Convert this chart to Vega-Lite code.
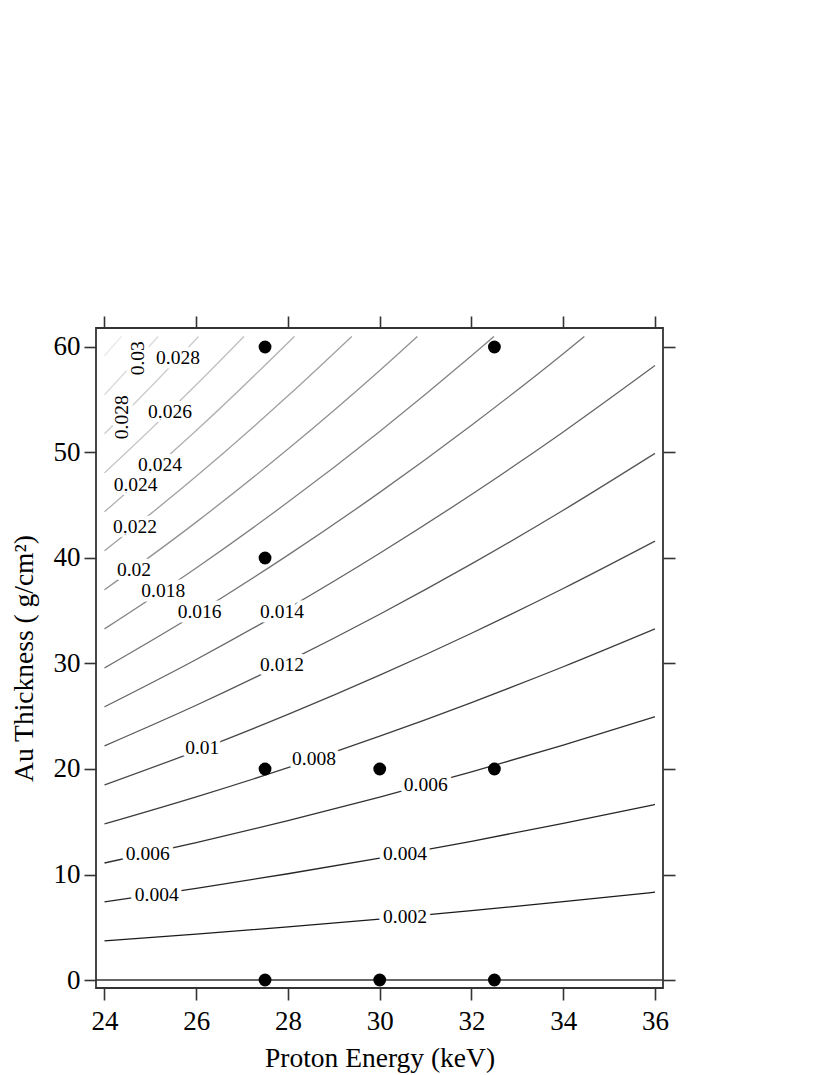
{
  "$schema": "https://vega.github.io/schema/vega-lite/v6.json",
  "width": 567,
  "height": 660,
  "autosize": "none",
  "padding": {"left": 96, "top": 328, "right": 167, "bottom": 87},
  "background": "white",
  "config": {
    "view": {"stroke": "#333333", "strokeWidth": 1.8},
    "font": "Liberation Serif",
    "axis": {
      "domain": false, "grid": false,
      "tickColor": "#333333", "tickWidth": 1.6, "tickSize": 12,
      "labelFont": "Liberation Serif", "labelFontSize": 27, "labelColor": "black",
      "titleFont": "Liberation Serif", "titleFontSize": 27.5, "titleFontWeight": "normal", "titleColor": "black"
    }
  },
  "datasets": {
    "lines": [
      {"level": 0.002, "E": 24, "T": 3.70}, {"level": 0.002, "E": 26, "T": 4.34}, {"level": 0.002, "E": 28, "T": 5.03}, {"level": 0.002, "E": 30, "T": 5.78}, {"level": 0.002, "E": 32, "T": 6.57}, {"level": 0.002, "E": 34, "T": 7.42}, {"level": 0.002, "E": 36, "T": 8.32},
      {"level": 0.004, "E": 24, "T": 7.40}, {"level": 0.004, "E": 26, "T": 8.68}, {"level": 0.004, "E": 28, "T": 10.07}, {"level": 0.004, "E": 30, "T": 11.56}, {"level": 0.004, "E": 32, "T": 13.15}, {"level": 0.004, "E": 34, "T": 14.84}, {"level": 0.004, "E": 36, "T": 16.64},
      {"level": 0.006, "E": 24, "T": 11.09}, {"level": 0.006, "E": 26, "T": 13.02}, {"level": 0.006, "E": 28, "T": 15.10}, {"level": 0.006, "E": 30, "T": 17.33}, {"level": 0.006, "E": 32, "T": 19.72}, {"level": 0.006, "E": 34, "T": 22.26}, {"level": 0.006, "E": 36, "T": 24.96},
      {"level": 0.008, "E": 24, "T": 14.79}, {"level": 0.008, "E": 26, "T": 17.36}, {"level": 0.008, "E": 28, "T": 20.13}, {"level": 0.008, "E": 30, "T": 23.11}, {"level": 0.008, "E": 32, "T": 26.30}, {"level": 0.008, "E": 34, "T": 29.69}, {"level": 0.008, "E": 36, "T": 33.28},
      {"level": 0.010, "E": 24, "T": 18.49}, {"level": 0.010, "E": 26, "T": 21.70}, {"level": 0.010, "E": 28, "T": 25.17}, {"level": 0.010, "E": 30, "T": 28.89}, {"level": 0.010, "E": 32, "T": 32.87}, {"level": 0.010, "E": 34, "T": 37.11}, {"level": 0.010, "E": 36, "T": 41.60},
      {"level": 0.012, "E": 24, "T": 22.19}, {"level": 0.012, "E": 26, "T": 26.04}, {"level": 0.012, "E": 28, "T": 30.20}, {"level": 0.012, "E": 30, "T": 34.67}, {"level": 0.012, "E": 32, "T": 39.44}, {"level": 0.012, "E": 34, "T": 44.53}, {"level": 0.012, "E": 36, "T": 49.92},
      {"level": 0.014, "E": 24, "T": 25.89}, {"level": 0.014, "E": 26, "T": 30.38}, {"level": 0.014, "E": 28, "T": 35.23}, {"level": 0.014, "E": 30, "T": 40.45}, {"level": 0.014, "E": 32, "T": 46.02}, {"level": 0.014, "E": 34, "T": 51.95}, {"level": 0.014, "E": 36, "T": 58.24},
      {"level": 0.016, "E": 24, "T": 29.58}, {"level": 0.016, "E": 26, "T": 34.72}, {"level": 0.016, "E": 28, "T": 40.27}, {"level": 0.016, "E": 30, "T": 46.22}, {"level": 0.016, "E": 32, "T": 52.59}, {"level": 0.016, "E": 34, "T": 59.37}, {"level": 0.016, "E": 34.46, "T": 61},
      {"level": 0.018, "E": 24, "T": 33.28}, {"level": 0.018, "E": 26, "T": 39.06}, {"level": 0.018, "E": 28, "T": 45.30}, {"level": 0.018, "E": 30, "T": 52.00}, {"level": 0.018, "E": 32, "T": 59.17}, {"level": 0.018, "E": 32.49, "T": 61},
      {"level": 0.020, "E": 24, "T": 36.98}, {"level": 0.020, "E": 26, "T": 43.40}, {"level": 0.020, "E": 28, "T": 50.33}, {"level": 0.020, "E": 30, "T": 57.78}, {"level": 0.020, "E": 30.82, "T": 61},
      {"level": 0.022, "E": 24, "T": 40.68}, {"level": 0.022, "E": 26, "T": 47.74}, {"level": 0.022, "E": 28, "T": 55.37}, {"level": 0.022, "E": 29.39, "T": 61},
      {"level": 0.024, "E": 24, "T": 44.38}, {"level": 0.024, "E": 26, "T": 52.08}, {"level": 0.024, "E": 28, "T": 60.40}, {"level": 0.024, "E": 28.14, "T": 61},
      {"level": 0.026, "E": 24, "T": 48.07}, {"level": 0.026, "E": 25, "T": 52.17}, {"level": 0.026, "E": 26, "T": 56.42}, {"level": 0.026, "E": 27.04, "T": 61},
      {"level": 0.028, "E": 24, "T": 51.77}, {"level": 0.028, "E": 25, "T": 56.18}, {"level": 0.028, "E": 26.05, "T": 61},
      {"level": 0.030, "E": 24, "T": 55.47}, {"level": 0.030, "E": 25, "T": 60.19}, {"level": 0.030, "E": 25.17, "T": 61},
      {"level": 0.032, "E": 24, "T": 59.17}, {"level": 0.032, "E": 24.37, "T": 61}
    ],
    "labels": [
      {"label": "0.028", "E": 25.602, "T": 58.93},
      {"label": "0.026", "E": 25.428, "T": 53.87},
      {"label": "0.024", "E": 25.21, "T": 48.82},
      {"label": "0.024", "E": 24.68, "T": 46.92},
      {"label": "0.022", "E": 24.665, "T": 42.94},
      {"label": "0.02", "E": 24.643, "T": 38.89},
      {"label": "0.018", "E": 25.282, "T": 36.90},
      {"label": "0.016", "E": 26.075, "T": 34.91},
      {"label": "0.014", "E": 27.869, "T": 34.91},
      {"label": "0.012", "E": 27.869, "T": 29.86},
      {"label": "0.01", "E": 26.132, "T": 21.96},
      {"label": "0.008", "E": 28.567, "T": 20.95},
      {"label": "0.006", "E": 31.002, "T": 18.48},
      {"label": "0.006", "E": 24.942, "T": 11.94},
      {"label": "0.004", "E": 30.55, "T": 11.91},
      {"label": "0.004", "E": 25.138, "T": 8.06},
      {"label": "0.002", "E": 30.55, "T": 5.97}
    ],
    "labelsRotated": [
      {"label": "0.03", "E": 24.737, "T": 58.93},
      {"label": "0.028", "E": 24.375, "T": 53.34}
    ],
    "pts": [
      {"E": 27.5, "T": 60}, {"E": 32.5, "T": 60}, {"E": 27.5, "T": 40},
      {"E": 27.5, "T": 20}, {"E": 30, "T": 20}, {"E": 32.5, "T": 20},
      {"E": 27.5, "T": 0}, {"E": 30, "T": 0}, {"E": 32.5, "T": 0}
    ]
  },
  "layer": [
    {
      "data": {"name": "lines"},
      "mark": {"type": "line", "interpolate": "monotone", "strokeWidth": 1.3},
      "encoding": {
        "x": {"field": "E", "type": "quantitative",
          "scale": {"domain": [23.815, 36.175], "nice": false, "zero": false},
          "axis": {"values": [24, 26, 28, 30, 32, 34, 36], "title": "Proton Energy (keV)", "labelPadding": 8, "titlePadding": 10}},
        "y": {"field": "T", "type": "quantitative",
          "scale": {"domain": [-0.758, 61.8], "nice": false, "zero": false},
          "axis": {"values": [0, 10, 20, 30, 40, 50, 60], "title": "Au Thickness ( g/cm²)", "labelPadding": 4, "titlePadding": 15}},
        "color": {"field": "level", "type": "ordinal", "legend": null,
          "scale": {
            "domain": [0.002, 0.004, 0.006, 0.008, 0.010, 0.012, 0.014, 0.016, 0.018, 0.020, 0.022, 0.024, 0.026, 0.028, 0.030, 0.032],
            "range": ["#1a1a1a", "#262626", "#313131", "#3d3d3d", "#4a4a4a", "#575757", "#656565", "#747474", "#838383", "#929292", "#a1a1a1", "#b0b0b0", "#bfbfbf", "#cccccc", "#dadada", "#e8e8e8"]}}
      }
    },
    {
      "data": {"name": "labels"},
      "mark": {"type": "text", "fontSize": 19.5, "font": "Liberation Serif", "fill": "white", "stroke": "white", "strokeWidth": 9, "align": "center", "baseline": "middle"},
      "encoding": {
        "x": {"field": "E", "type": "quantitative", "axis": null},
        "y": {"field": "T", "type": "quantitative", "axis": null},
        "text": {"field": "label"}
      }
    },
    {
      "data": {"name": "labelsRotated"},
      "mark": {"type": "text", "fontSize": 19.5, "font": "Liberation Serif", "fill": "white", "stroke": "white", "strokeWidth": 9, "align": "center", "baseline": "middle", "angle": 270},
      "encoding": {
        "x": {"field": "E", "type": "quantitative", "axis": null},
        "y": {"field": "T", "type": "quantitative", "axis": null},
        "text": {"field": "label"}
      }
    },
    {
      "data": {"name": "labels"},
      "mark": {"type": "text", "fontSize": 19.5, "font": "Liberation Serif", "color": "black", "align": "center", "baseline": "middle"},
      "encoding": {
        "x": {"field": "E", "type": "quantitative", "axis": null},
        "y": {"field": "T", "type": "quantitative", "axis": null},
        "text": {"field": "label"}
      }
    },
    {
      "data": {"name": "labelsRotated"},
      "mark": {"type": "text", "fontSize": 19.5, "font": "Liberation Serif", "color": "black", "align": "center", "baseline": "middle", "angle": 270},
      "encoding": {
        "x": {"field": "E", "type": "quantitative", "axis": null},
        "y": {"field": "T", "type": "quantitative", "axis": null},
        "text": {"field": "label"}
      }
    },
    {
      "data": {"values": [{}]},
      "mark": {"type": "rule", "color": "#333333", "strokeWidth": 1.6},
      "encoding": {
        "y": {"datum": 0, "type": "quantitative", "axis": null}
      }
    },
    {
      "data": {"name": "pts"},
      "mark": {"type": "circle", "size": 165, "color": "black", "opacity": 1},
      "encoding": {
        "x": {"field": "E", "type": "quantitative",
          "axis": {"orient": "top", "labels": false, "title": null, "values": [24, 26, 28, 30, 32, 34, 36]}},
        "y": {"field": "T", "type": "quantitative",
          "axis": {"orient": "right", "labels": false, "title": null, "values": [0, 10, 20, 30, 40, 50, 60]}}
      }
    }
  ],
  "resolve": {"axis": {"x": "independent", "y": "independent"}}
}
